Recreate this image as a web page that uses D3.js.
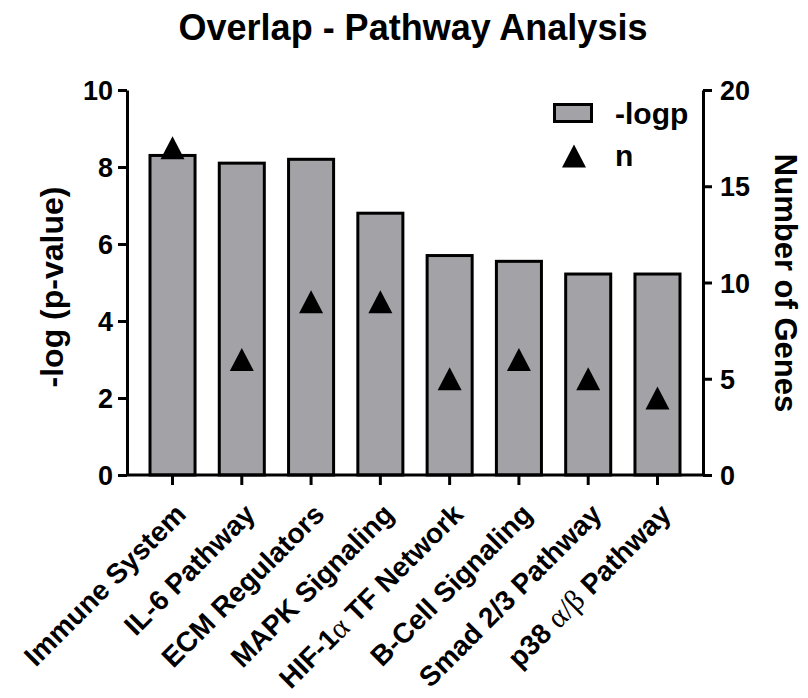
<!DOCTYPE html>
<html>
<head>
<meta charset="utf-8">
<script src="https://cdn.jsdelivr.net/npm/d3@7"></script>
<style>
  body { margin: 0; background: #fff; }
  svg text { font-family: "Liberation Sans", Arial, sans-serif; font-weight: bold; fill: #000; }
</style>
</head>
<body>
<div id="chart"></div>
<script>
  // pathway names (label pieces: [text, isGreek])
  const pathways = [
    [['Immune System', false]],
    [['IL-6 Pathway', false]],
    [['ECM Regulators', false]],
    [['MAPK Signaling', false]],
    [['HIF-1', false], ['\u03b1', true], [' TF Network', false]],
    [['B-Cell Signaling', false]],
    [['Smad 2/3 Pathway', false]],
    [['p38 ', false], ['\u03b1/\u03b2', true], [' Pathway', false]]
  ];
  const logp = [8.3, 8.1, 8.2, 6.8, 5.7, 5.55, 5.22, 5.22];
  const nGenes = [17, 6, 9, 9, 5, 6, 5, 4];
  const leftTicks = [0, 2, 4, 6, 8, 10];
  const rightTicks = [0, 5, 10, 15, 20];

  const W = 808, H = 698;
  const margin = { top: 90, right: 105, bottom: 223, left: 127 };
  const width = W - margin.left - margin.right;
  const height = H - margin.top - margin.bottom;

  const svg = d3.select('#chart').append('svg')
    .attr('width', W)
    .attr('height', H);

  const g = svg.append('g')
    .attr('transform', `translate(${margin.left},${margin.top})`);

  const idx = d3.range(pathways.length);
  const x = d3.scaleBand()
    .domain(idx)
    .range([23, width - 23])
    .paddingInner(0.35)
    .paddingOuter(0);

  const y = d3.scaleLinear().domain([0, 10]).range([height, 0]);
  const y2 = d3.scaleLinear().domain([0, 20]).range([height, 0]);

  // triangle marker, a bit taller than equilateral
  const triangleShape = {
    draw(ctx, size) {
      const w = Math.sqrt(size), h = w * 0.96;
      ctx.moveTo(0, -h / 2);
      ctx.lineTo(w / 2, h / 2);
      ctx.lineTo(-w / 2, h / 2);
      ctx.closePath();
    }
  };
  const tri = d3.symbol().type(triangleShape).size(576);

  // Bars
  g.selectAll('.bar')
    .data(idx)
    .enter()
    .append('rect')
    .attr('class', 'bar')
    .attr('x', i => x(i))
    .attr('y', i => y(logp[i]))
    .attr('width', x.bandwidth())
    .attr('height', i => height - y(logp[i]))
    .attr('fill', '#a3a2a7')
    .attr('stroke', '#000')
    .attr('stroke-width', 3);

  // Triangles for number of genes
  g.selectAll('.tri')
    .data(idx)
    .enter()
    .append('path')
    .attr('class', 'tri')
    .attr('d', tri)
    .attr('transform', i => `translate(${x(i) + x.bandwidth() / 2},${y2(nGenes[i])})`)
    .attr('fill', '#000');

  // Left axis
  const yAxis = g.append('g')
    .call(d3.axisLeft(y).tickValues(leftTicks).tickSize(9).tickPadding(5).tickSizeOuter(0));
  yAxis.select('.domain').attr('stroke-width', 3);
  yAxis.selectAll('.tick line').attr('stroke-width', 3);
  yAxis.selectAll('text').style('font-size', '27px').attr('dy', '0.36em');

  // Right axis
  const yAxis2 = g.append('g')
    .attr('transform', `translate(${width},0)`)
    .call(d3.axisRight(y2).tickValues(rightTicks).tickSize(9).tickPadding(8).tickSizeOuter(0));
  yAxis2.select('.domain').attr('stroke-width', 3);
  yAxis2.selectAll('.tick line').attr('stroke-width', 3);
  yAxis2.selectAll('text').style('font-size', '27px').attr('dy', '0.36em');

  // X axis
  const xAxis = g.append('g')
    .attr('transform', `translate(0,${height})`);
  xAxis.append('line')
    .attr('x1', 0).attr('x2', width)
    .attr('stroke', '#000').attr('stroke-width', 3);
  const xt = xAxis.selectAll('.xtick')
    .data(idx)
    .enter()
    .append('g')
    .attr('class', 'xtick')
    .attr('transform', i => `translate(${x(i) + x.bandwidth() / 2},0)`);
  xt.append('line')
    .attr('y1', 0).attr('y2', 10)
    .attr('stroke', '#000').attr('stroke-width', 3);
  const lbl = xt.append('text')
    .attr('transform', 'translate(15,41) rotate(-45)')
    .attr('text-anchor', 'end')
    .style('font-size', '28px');
  lbl.each(function(i) {
    const t = d3.select(this);
    pathways[i].forEach(([s, greek]) => {
      const ts = t.append('tspan').text(s);
      if (greek) ts.style('font-family', '"Liberation Serif", serif').style('font-weight', 'normal').style('font-size', '30px');
    });
  });

  // Title
  svg.append('text')
    .attr('x', 413)
    .attr('y', 40)
    .attr('text-anchor', 'middle')
    .style('font-size', '36px')
    .text('Overlap - Pathway Analysis');

  // Axis titles
  svg.append('text')
    .attr('transform', `translate(63,287) rotate(-90)`)
    .attr('text-anchor', 'middle')
    .style('font-size', '32px')
    .text('-log (p-value)');

  svg.append('text')
    .attr('transform', `translate(775,283) rotate(90)`)
    .attr('text-anchor', 'middle')
    .style('font-size', '31px')
    .text('Number of Genes');

  // Legend
  const legend = svg.append('g').attr('transform', 'translate(553,103)');
  legend.append('rect')
    .attr('x', 1.5).attr('y', 1.5)
    .attr('width', 37).attr('height', 17)
    .attr('fill', '#a3a2a7')
    .attr('stroke', '#000')
    .attr('stroke-width', 3);
  legend.append('text')
    .attr('x', 62).attr('y', 21)
    .style('font-size', '30px')
    .text('-logp');
  legend.append('path')
    .attr('d', tri)
    .attr('transform', 'translate(21,53)')
    .attr('fill', '#000');
  legend.append('text')
    .attr('x', 62).attr('y', 63)
    .style('font-size', '30px')
    .text('n');
</script>
</body>
</html>
